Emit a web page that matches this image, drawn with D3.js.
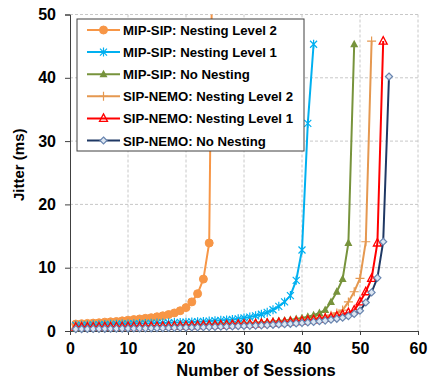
<!DOCTYPE html>
<html><head><meta charset="utf-8">
<script src="https://cdn.jsdelivr.net/npm/d3@7"></script>
<style>body{margin:0;background:#fff}svg{display:block}text{font-family:"Liberation Sans",Arial,sans-serif;font-weight:bold;fill:#000}</style>
</head><body><svg id="c" width="428" height="377"></svg>
<script>
const seriesNames = ["MIP-SIP: Nesting Level 2","MIP-SIP: Nesting Level 1","MIP-SIP: No Nesting","SIP-NEMO: Nesting Level 2","SIP-NEMO: Nesting Level 1","SIP-NEMO: No Nesting"];
const mipL2 = [1.1,1.15,1.2,1.25,1.3,1.4,1.45,1.5,1.6,1.7,1.8,1.9,2.0,2.1,2.25,2.4,2.6,2.85,3.2,3.7,4.6,5.9,8.2,13.9,100];
const mipL1 = [0.9,0.92,0.95,0.97,1.0,1.02,1.05,1.07,1.1,1.12,1.15,1.17,1.2,1.22,1.25,1.28,1.3,1.33,1.36,1.4,1.44,1.48,1.52,1.57,1.62,1.68,1.75,1.83,1.92,2.05,2.2,2.4,2.65,2.95,3.35,3.9,4.6,5.6,8.0,12.8,32.8,45.3];
const mipNo = [0.45,0.47,0.49,0.51,0.53,0.55,0.57,0.59,0.61,0.63,0.65,0.67,0.69,0.71,0.73,0.76,0.78,0.8,0.83,0.86,0.89,0.92,0.95,0.98,1.01,1.05,1.09,1.13,1.17,1.22,1.27,1.32,1.38,1.44,1.5,1.58,1.67,1.77,1.9,2.05,2.25,2.5,2.85,3.3,4.6,6.2,8.2,13.9,45.3];
const nemoL2 = [0.4,0.42,0.44,0.46,0.48,0.5,0.52,0.54,0.56,0.58,0.6,0.62,0.64,0.66,0.68,0.7,0.72,0.74,0.77,0.8,0.83,0.86,0.89,0.92,0.95,0.98,1.01,1.05,1.09,1.13,1.17,1.22,1.27,1.32,1.38,1.44,1.5,1.57,1.65,1.74,1.84,1.95,2.08,2.25,2.5,2.85,3.3,4.6,6.2,8.3,14.1,45.8];
const nemoL1 = [0.6,0.61,0.62,0.63,0.64,0.65,0.66,0.67,0.68,0.69,0.7,0.71,0.72,0.73,0.74,0.75,0.77,0.79,0.81,0.83,0.85,0.87,0.89,0.91,0.93,0.95,0.98,1.01,1.04,1.07,1.1,1.14,1.18,1.22,1.27,1.32,1.38,1.44,1.5,1.58,1.67,1.77,1.88,2.0,2.15,2.35,2.6,2.9,3.3,4.6,6.2,8.3,13.9,45.8];
const nemoNo = [0.3,0.31,0.32,0.33,0.34,0.35,0.36,0.37,0.38,0.39,0.4,0.41,0.42,0.43,0.44,0.46,0.48,0.5,0.52,0.54,0.56,0.58,0.6,0.62,0.64,0.67,0.7,0.73,0.76,0.79,0.82,0.86,0.9,0.94,0.98,1.03,1.08,1.14,1.2,1.27,1.35,1.44,1.54,1.65,1.78,1.93,2.1,2.35,2.7,3.2,4.5,6.1,8.4,14.1,40.2];
const xTicks = [0,10,20,30,40,50,60];
const yTicks = [0,10,20,30,40,50];
const colors = ["#F79646","#00B0F0","#77933C","#E59850","#FF0000","#1F3864"];
const markers = ["circle","asterisk","triangle","plus","opentri","diamond"];
const allSeries = [mipL2,mipL1,mipNo,nemoL2,nemoL1,nemoNo];

const svg = d3.select("#c");
const L=70, R=418, T=14.5, B=331;
const x = d3.scaleLinear().domain([0,60]).range([L,R]);
const y = d3.scaleLinear().domain([0,50]).range([B,T]);

// grid
const g = svg.append("g");
g.selectAll(".hg").data(yTicks.filter(d=>d>0)).join("line")
  .attr("x1",L).attr("x2",R).attr("y1",d=>y(d)).attr("y2",d=>y(d))
  .attr("stroke","#c8c8c8").attr("stroke-dasharray","3,2");
g.selectAll(".vg").data(xTicks.filter(d=>d>0)).join("line")
  .attr("y1",T).attr("y2",B).attr("x1",d=>x(d)).attr("x2",d=>x(d))
  .attr("stroke","#c8c8c8").attr("stroke-dasharray","3,2");

// axes
const ax = svg.append("g").attr("transform",`translate(0,${B})`)
  .call(d3.axisBottom(x).tickValues(xTicks).tickSize(4).tickPadding(8));
const ay = svg.append("g").attr("transform",`translate(${L},0)`)
  .call(d3.axisLeft(y).tickValues(yTicks).tickSize(5).tickPadding(9));
[ax,ay].forEach(a=>{a.select(".domain").attr("stroke","#404040");a.selectAll(".tick line").attr("stroke","#404040");
  a.selectAll("text").style("font-size","16px").style("font-family","'Liberation Sans',Arial,sans-serif").style("font-weight","bold").attr("fill","#000");});

svg.append("text").attr("x",256).attr("y",375.5).attr("text-anchor","middle").style("font-size","16.5px").text("Number of Sessions");
svg.append("text").attr("transform",`translate(24,${(T+B)/2-8}) rotate(-90)`).attr("text-anchor","middle").style("font-size","15px").text("Jitter (ms)");

svg.append("clipPath").attr("id","clip").append("rect").attr("x",L-6).attr("y",T).attr("width",R-L+12).attr("height",B-T+6);

function drawMarker(sel, type, color){
  if(type==="circle") sel.append("circle").attr("r",4).attr("fill",color).attr("stroke",color);
  else if(type==="asterisk"){ sel.append("path").attr("d","M-3.5,-3.5L3.5,3.5M-3.5,3.5L3.5,-3.5M0,-4.5L0,4.5").attr("stroke",color).attr("stroke-width",1.2).attr("fill","none"); }
  else if(type==="triangle") sel.append("path").attr("d","M0,-4.5L4,3L-4,3Z").attr("fill",color);
  else if(type==="plus") sel.append("path").attr("d","M-4.5,0L4.5,0M0,-4.5L0,4.5").attr("stroke",color).attr("stroke-width",1.2);
  else if(type==="opentri") sel.append("path").attr("d","M0,-4.5L4,3L-4,3Z").attr("fill","none").attr("stroke",color).attr("stroke-width",1.3);
  else if(type==="diamond") sel.append("path").attr("d","M0,-3.5L3.5,0L0,3.5L-3.5,0Z").attr("fill","#DCE6F2").attr("stroke","#6A86B0").attr("stroke-width",1.2);
}

const line = d3.line().x((d,i)=>x(i+1)).y(d=>y(d));
const plot = svg.append("g").attr("clip-path","url(#clip)");
allSeries.forEach((s,k)=>{
  const sg = plot.append("g");
  sg.append("path").datum(s).attr("d",line).attr("fill","none").attr("stroke",colors[k]).attr("stroke-width",2);
  s.forEach((v,i)=>{ const m = sg.append("g").attr("transform",`translate(${x(i+1)},${y(v)})`); drawMarker(m,markers[k],colors[k]); });
});

// legend
const lg = svg.append("g");
lg.append("rect").attr("x",77).attr("y",19).attr("width",227).attr("height",132).attr("fill","#fff").attr("stroke","#404040");
seriesNames.forEach((n,k)=>{
  const cy = 30 + k*22.1;
  lg.append("line").attr("x1",87).attr("x2",120).attr("y1",cy).attr("y2",cy).attr("stroke",colors[k]).attr("stroke-width",2);
  const m = lg.append("g").attr("transform",`translate(103.5,${cy})`); drawMarker(m,markers[k],colors[k]);
  lg.append("text").attr("x",123).attr("y",cy+5).style("font-size","13.2px").text(n);
});
</script></body></html>
